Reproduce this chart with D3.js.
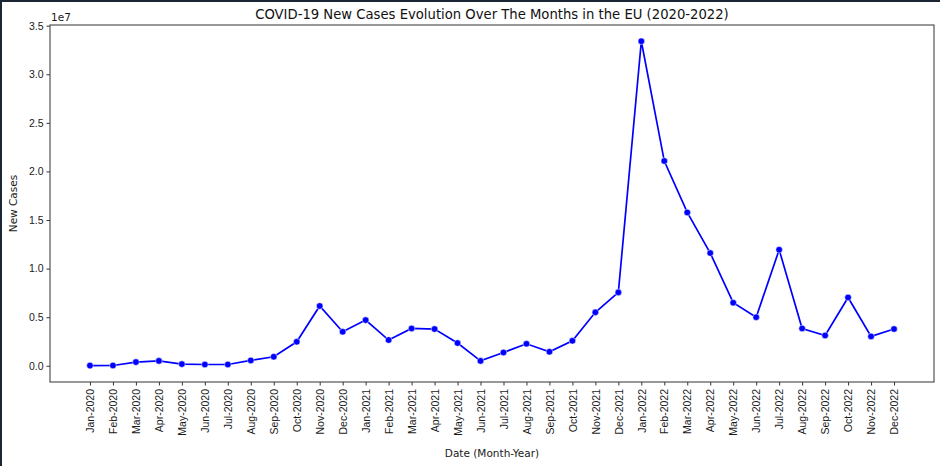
<!DOCTYPE html>
<html>
<head>
<meta charset="utf-8">
<script src="https://cdn.jsdelivr.net/npm/d3@7"></script>
<style>
body { margin: 0; background: #fff; }
svg { display: block; font-family: "DejaVu Sans", sans-serif; }
.tick text { font-size: 10.5px; fill: #1a1a1a; }
</style>
</head>
<body>
<svg id="chart" width="940" height="466"></svg>
<script>
var months = ["Jan-2020","Feb-2020","Mar-2020","Apr-2020","May-2020","Jun-2020","Jul-2020","Aug-2020","Sep-2020","Oct-2020","Nov-2020","Dec-2020",
	"Jan-2021","Feb-2021","Mar-2021","Apr-2021","May-2021","Jun-2021","Jul-2021","Aug-2021","Sep-2021","Oct-2021","Nov-2021","Dec-2021",
	"Jan-2022","Feb-2022","Mar-2022","Apr-2022","May-2022","Jun-2022","Jul-2022","Aug-2022","Sep-2022","Oct-2022","Nov-2022","Dec-2022"];

var newCases = [20000, 30000, 380000, 500000, 170000, 130000, 130000, 550000, 930000, 2470000, 6150000, 3500000,
	4700000, 2650000, 3840000, 3780000, 2340000, 500000, 1370000, 2260000, 1440000, 2570000, 5500000, 7550000,
	33400000, 21070000, 15780000, 11600000, 6490000, 5000000, 11940000, 3840000, 3120000, 7030000, 3020000, 3780000];

var yTicks = [0, 5e6, 1e7, 1.5e7, 2e7, 2.5e7, 3e7, 3.5e7];

var svg = d3.select('#chart');

// dark edge on top and left like the screenshot
svg.append('rect').attr('x', 0).attr('y', 0).attr('width', 940).attr('height', 2).attr('fill', '#1c2533');
svg.append('rect').attr('x', 0).attr('y', 0).attr('width', 2).attr('height', 466).attr('fill', '#1c2533');

var plot = {left: 50, top: 25, right: 934, bottom: 382};

var x = d3.scaleLinear()
	.domain([-1.74, months.length - 1 + 1.74])
	.range([plot.left, plot.right]);

var y = d3.scaleLinear()
	.domain([-1.67e6, 3.507e7])
	.range([plot.bottom, plot.top]);

var xAxis = d3.axisBottom(x)
	.tickValues(d3.range(months.length))
	.tickFormat(function(d) { return months[d]; })
	.tickSize(3.5)
	.tickPadding(3);

var yAxis = d3.axisLeft(y)
	.tickValues(yTicks)
	.tickFormat(function(d) { return (d / 1e7).toFixed(1); })
	.tickSize(3.5)
	.tickPadding(3);

var gx = svg.append('g')
	.attr('transform', 'translate(0,' + plot.bottom + ')')
	.call(xAxis);
gx.select('.domain').remove();
gx.selectAll('.tick line').attr('stroke', '#333');
gx.selectAll('.tick text')
	.attr('transform', 'rotate(-90)')
	.attr('text-anchor', 'end')
	.attr('x', -7)
	.attr('y', 0)
	.attr('dy', '0.35em');

var gy = svg.append('g')
	.attr('transform', 'translate(' + plot.left + ',0)')
	.call(yAxis);
gy.select('.domain').remove();
gy.selectAll('.tick line').attr('stroke', '#333');

// axes frame
svg.append('rect')
	.attr('x', plot.left)
	.attr('y', plot.top)
	.attr('width', plot.right - plot.left)
	.attr('height', plot.bottom - plot.top)
	.attr('fill', 'none')
	.attr('stroke', '#444')
	.attr('stroke-width', 1.1);

svg.append('text')
	.attr('x', plot.left + 1)
	.attr('y', plot.top - 4)
	.attr('font-size', 10.5)
	.attr('fill', '#1a1a1a')
	.text('1e7');

var line = d3.line()
	.x(function(d, i) { return x(i); })
	.y(function(d) { return y(d); });

svg.append('path')
	.datum(newCases)
	.attr('d', line)
	.attr('fill', 'none')
	.attr('stroke', '#0000ff')
	.attr('stroke-width', 1.7);

svg.append('g')
	.selectAll('circle')
	.data(newCases)
	.enter()
	.append('circle')
	.attr('cx', function(d, i) { return x(i); })
	.attr('cy', function(d) { return y(d); })
	.attr('r', 3.3)
	.attr('fill', '#0000ff')
	.attr('stroke', '#fff')
	.attr('stroke-width', 0.5);

svg.append('text')
	.attr('x', (plot.left + plot.right) / 2)
	.attr('y', 19)
	.attr('text-anchor', 'middle')
	.attr('font-size', 13.2)
	.attr('fill', '#111')
	.text('COVID-19 New Cases Evolution Over The Months in the EU (2020-2022)');

svg.append('text')
	.attr('x', (plot.left + plot.right) / 2)
	.attr('y', 457)
	.attr('text-anchor', 'middle')
	.attr('font-size', 10.5)
	.attr('fill', '#1a1a1a')
	.text('Date (Month-Year)');

svg.append('text')
	.attr('transform', 'translate(17,' + ((plot.top + plot.bottom) / 2) + ') rotate(-90)')
	.attr('text-anchor', 'middle')
	.attr('font-size', 10.5)
	.attr('fill', '#1a1a1a')
	.text('New Cases');
</script>
</body>
</html>
